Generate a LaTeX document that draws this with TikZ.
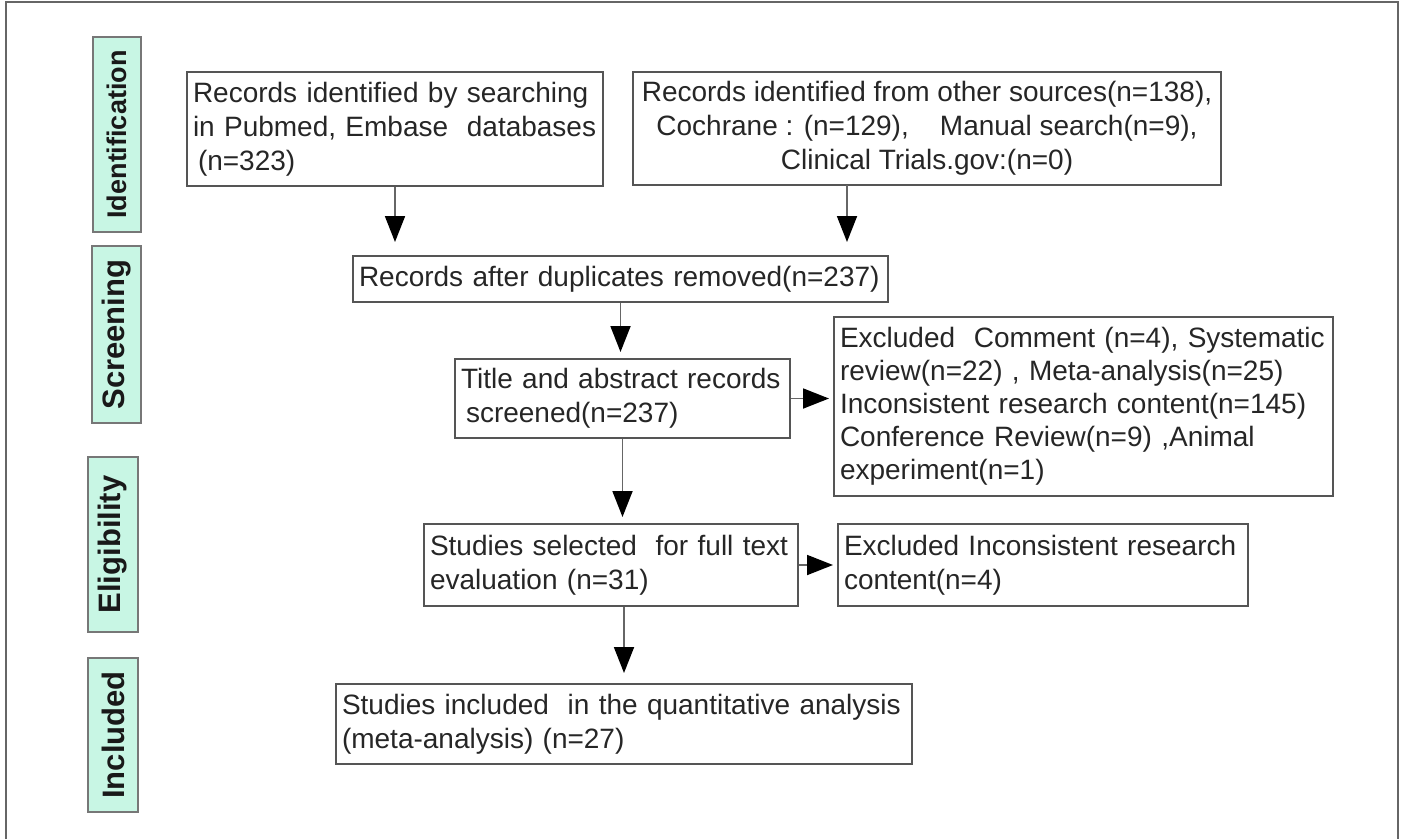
\documentclass[tikz,border=0pt]{standalone}
\usepackage{fontspec}
\setmainfont{Liberation Sans}
\usetikzlibrary{arrows.meta}

\definecolor{phasegreen}{RGB}{200,246,228}
\definecolor{boxgray}{RGB}{85,85,85}

\begin{document}
\begin{tikzpicture}[x=1pt,y=-1pt,
  box/.style={draw=boxgray, line width=2pt, inner xsep=6pt, inner ysep=0pt,
    align=left, text=black!85, font=\fontsize{28}{34}\selectfont},
  phase/.style={draw=boxgray!80, fill=phasegreen, line width=2pt, rotate=90,
    inner sep=0pt, text=black!90, font=\fontsize{31}{31}\selectfont\bfseries},
  arrow/.style={draw=black!60, line width=1.8pt, shorten >=6pt,
    -{Triangle[length=26pt,width=20pt,color=black]}}]

\useasboundingbox (0,0) rectangle (1403,839);

% Outer frame (open at the bottom)
\draw[boxgray!90, line width=2pt] (6,839) -- (6,2) -- (1398,2) -- (1398,839);

% Phase labels
\node[phase, minimum width=195pt, minimum height=48pt,
  font=\fontsize{27}{27}\selectfont\bfseries] (ident) at (117,134.5) {Identification};
\node[phase, minimum width=177pt, minimum height=49pt] (scr) at (116.5,334.5) {Screening};
\node[phase, minimum width=175pt, minimum height=50pt] (elig) at (113,544.5) {Eligibility};
\node[phase, minimum width=154pt, minimum height=50pt] (inc) at (113,735) {Included};

% Identification
\node[box, text width=404pt, minimum height=114pt] (search) at (395,129)
  {Records identified by searching\\in Pubmed, Embase\ \ databases\\\hspace*{5pt}(n=323)};
\node[box, align=center, minimum width=588pt, minimum height=113pt] (other) at (927,128.5)
  {Records identified from other sources(n=138),\\Cochrane : (n=129),\ \ \ \ Manual search(n=9),\\Clinical Trials.gov:(n=0)};

% Screening
\node[box, text width=523pt, minimum height=46pt] (dup) at (620.5,279)
  {Records after duplicates removed(n=237)};
\node[box, text width=323pt, minimum height=79pt] (title) at (622.5,398.5)
  {Title and abstract records\\\hspace*{5pt}screened(n=237)};
\node[box, text width=487pt, minimum height=179pt, font=\fontsize{28}{33}\selectfont]
  (excla) at (1083.5,406.5)
  {Excluded\ \ Comment (n=4), Systematic\\review(n=22) , Meta-analysis(n=25)\\Inconsistent research content(n=145)\\Conference Review(n=9) ,Animal\\experiment(n=1)};

% Eligibility
\node[box, text width=362pt, minimum height=82pt] (full) at (611,565)
  {Studies selected\ \ for full text\\evaluation (n=31)};
\node[box, text width=398pt, minimum height=82pt] (exclb) at (1043,565)
  {Excluded Inconsistent research\\content(n=4)};

% Included
\node[box, text width=564pt, minimum height=80pt] (incl) at (624,724)
  {Studies included\ \ in the quantitative analysis\\(meta-analysis) (n=27)};

% Arrows
\coordinate (otherout) at (847,185);
\draw[arrow, shorten >=13pt] (search.south) -- (search.south |- dup.north);
\draw[arrow, shorten >=13pt] (otherout) -- (otherout |- dup.north);
\draw[arrow] (dup.south) -- (dup.south |- title.north);
\draw[arrow] (title.south) -- (title.south |- full.north);
\draw[arrow, shorten >=10pt] (incl.north |- full.south) -- (incl.north);
\draw[arrow, shorten >=4pt] (title.east) -- (title.east -| excla.west);
\draw[arrow, shorten >=4pt] (full.east) -- (full.east -| exclb.west);

\end{tikzpicture}
\end{document}
